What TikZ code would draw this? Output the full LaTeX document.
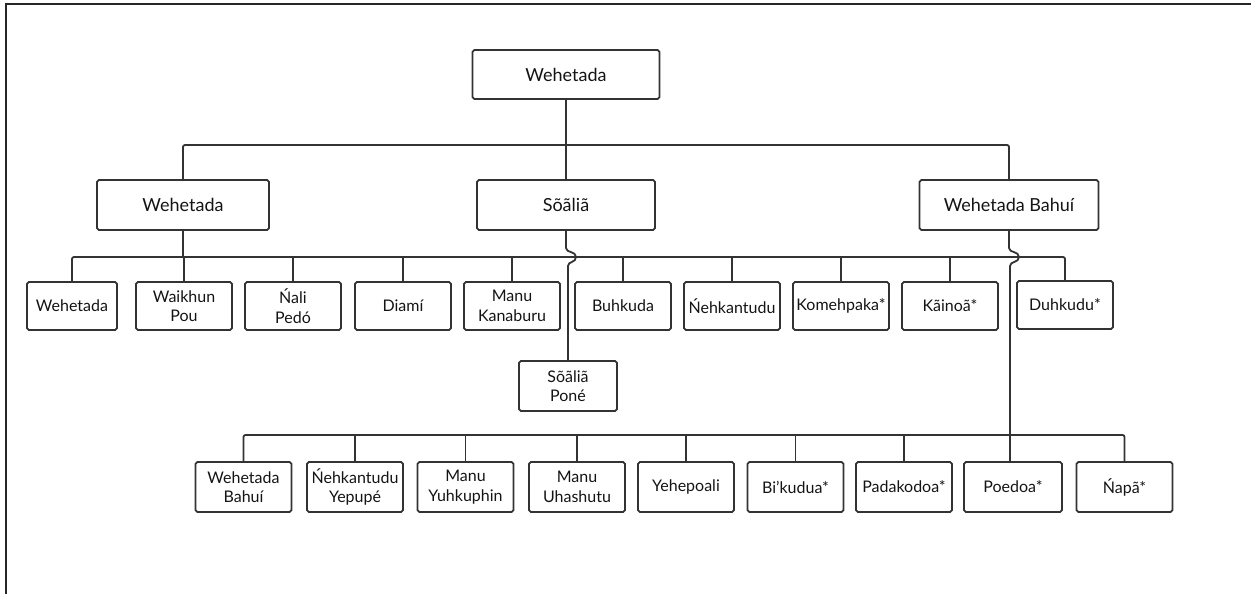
\documentclass[tikz,border=0pt]{standalone}
\usepackage{fontspec}
\setmainfont{Lato}
\begin{document}
\begin{tikzpicture}[x=1pt,y=-1pt,
  ln/.style={draw=black!80, line width=1.8pt},
  box/.style={ln, rounded corners=1.8pt, align=center, text=black!92, inner sep=0pt,
    minimum width=96, minimum height=48, font=\fontsize{16}{19.5}\selectfont},
  big/.style={box, minimum height=50, font=\fontsize{18}{21}\selectfont},
  frame/.style={draw=black!85, line width=1.6pt}]
\useasboundingbox (0,0) rectangle (1251,594);
\draw[frame] (6,594) -- (6,4) -- (1251,4);

\coordinate (bus2) at (0,145);
\coordinate (bus3) at (0,257);
\coordinate (bus4) at (0,435);

% level 1 and 2
\node[big, minimum width=187, minimum height=49] (root) at (566,74.5) {Wehetada};
\node[big, minimum width=172] (w2) at (183,205) {Wehetada};
\node[big, minimum width=178] (s) at (566,205) {Sõãliã};
\node[big, minimum width=179] (wb) at (1009,205) {Wehetada Bahuí};

% level 3
\node[box, minimum width=90] (t1) at (72,306) {Wehetada};
\node[box] (t2) at (184,306) {Waikhun\\Pou};
\node[box] (t3) at (293,306) {Ńali\\Pedó};
\node[box] (t4) at (403,306) {Diamí};
\node[box] (t5) at (512,306) {Manu\\Kanaburu};
\node[box] (t6) at (623,306) {Buhkuda};
\node[box] (t7) at (732,306) {Ńehkantudu};
\node[box] (t8) at (841,306) {Komehpaka*};
\node[box] (t9) at (950,306) {Kãinoã*};
\node[box] (t10) at (1065,305) {Duhkudu*};

\node[box, minimum width=98, minimum height=50] (sp) at (568,386) {Sõãliã\\Poné};

% level 4
\node[box, minimum height=50] (f1) at (243.5,487) {Wehetada\\Bahuí};
\node[box, minimum height=50] (f2) at (355,487) {Ńehkantudu\\Yepupé};
\node[box, minimum height=50] (f3) at (465.5,487) {Manu\\Yuhkuphin};
\node[box, minimum height=50] (f4) at (577,487) {Manu\\Uhashutu};
\node[box, minimum height=50] (f5) at (686,487) {Yehepoali};
\node[box, minimum height=50] (f6) at (795.5,487) {Bi’kudua*};
\node[box, minimum height=50] (f7) at (904,487) {Padakodoa*};
\node[box, minimum height=50, minimum width=98] (f8) at (1013,487) {Poedoa*};
\node[box, minimum height=50] (f9) at (1124.5,487) {Ńapã*};

% connectors level 1-2
\draw[ln, rounded corners=2pt] (w2.north) |- (wb.north |- bus2) -- (wb.north);
\draw[ln] (root.south) -- (s.north);

% level 3 bus
\draw[ln, rounded corners=2pt] (t1.north) |- (t10.north |- bus3) -- (t10.north);
\draw[ln] (w2.south) -- (w2.south |- bus3);
\foreach \n in {t2,t3,t4,t5,t6,t7,t8,t9}
  \draw[ln] (\n.north) -- (\n.north |- bus3);

% hop lines
\coordinate (hs) at (568,266);
\draw[ln] (s.south) -- (566,248) .. controls (566,253) and (576,251) .. (576,257)
  .. controls (576,263) and (568,261) .. (hs) -- (sp.north);
\coordinate (hw) at (1010,266);
\draw[ln] (wb.south) -- (1009,248) .. controls (1009,253) and (1019,251) .. (1019,257)
  .. controls (1019,263) and (1010,261) .. (hw) -- (hw |- f8.north);

% level 4 bus
\draw[ln, rounded corners=2pt] (f1.north) |- (f9.north |- bus4) -- (f9.north);
\foreach \n in {f2,f3,f4,f5,f6,f7}
  \draw[ln] (\n.north) -- (\n.north |- bus4);
\end{tikzpicture}
\end{document}
